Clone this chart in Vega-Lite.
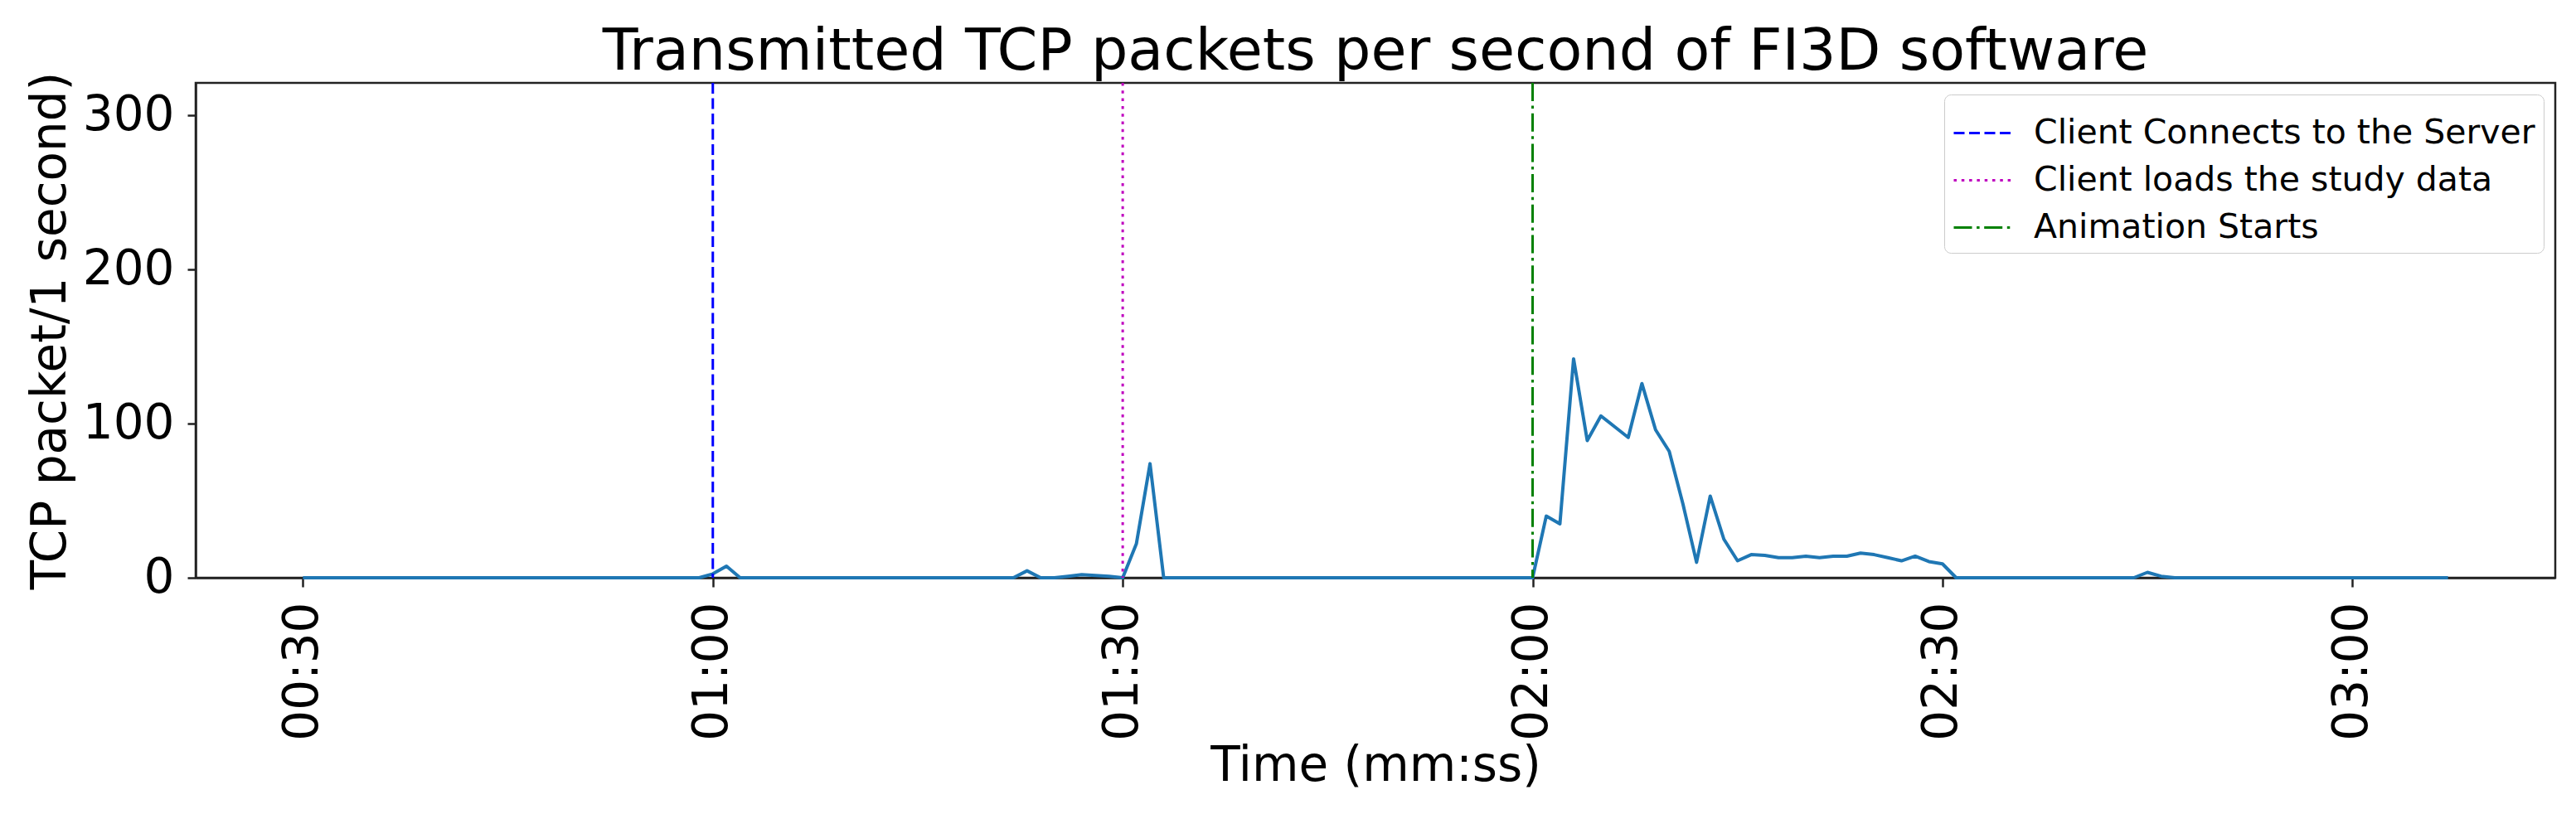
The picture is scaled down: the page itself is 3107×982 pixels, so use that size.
{
  "$schema": "https://vega.github.io/schema/vega-lite/v6.json",
  "autosize": "none",
  "width": 2846,
  "height": 597,
  "padding": {"left": 236, "top": 100, "right": 25, "bottom": 285},
  "background": "white",
  "config": {
    "font": "DejaVu Sans",
    "view": {"stroke": "#222222", "strokeWidth": 2.5},
    "axis": {"grid": false, "labelFont": "DejaVu Sans", "titleFont": "DejaVu Sans", "labelColor": "black", "titleColor": "black", "tickColor": "#222222", "domainColor": "#222222", "domainWidth": 2.5, "tickWidth": 2.5, "titleFontWeight": "normal", "zindex": 1}
  },
  "title": {
    "text": "Transmitted TCP packets per second of FI3D software",
    "fontSize": 70,
    "font": "DejaVu Sans",
    "fontWeight": "normal",
    "color": "black",
    "anchor": "middle",
    "frame": "group",
    "baseline": "alphabetic",
    "offset": 18,
    "dy": 86
  },
  "datasets": {
    "traffic": [
      {"t":30,"v":0},{"t":31,"v":0},{"t":32,"v":0},{"t":33,"v":0},{"t":34,"v":0},{"t":35,"v":0},{"t":36,"v":0},{"t":37,"v":0},{"t":38,"v":0},{"t":39,"v":0},
      {"t":40,"v":0},{"t":41,"v":0},{"t":42,"v":0},{"t":43,"v":0},{"t":44,"v":0},{"t":45,"v":0},{"t":46,"v":0},{"t":47,"v":0},{"t":48,"v":0},{"t":49,"v":0},
      {"t":50,"v":0},{"t":51,"v":0},{"t":52,"v":0},{"t":53,"v":0},{"t":54,"v":0},{"t":55,"v":0},{"t":56,"v":0},{"t":57,"v":0},{"t":58,"v":0},{"t":59,"v":0},
      {"t":60,"v":2.5},{"t":61,"v":7.5},{"t":62,"v":0},{"t":63,"v":0},{"t":64,"v":0},{"t":65,"v":0},{"t":66,"v":0},{"t":67,"v":0},{"t":68,"v":0},{"t":69,"v":0},
      {"t":70,"v":0},{"t":71,"v":0},{"t":72,"v":0},{"t":73,"v":0},{"t":74,"v":0},{"t":75,"v":0},{"t":76,"v":0},{"t":77,"v":0},{"t":78,"v":0},{"t":79,"v":0},
      {"t":80,"v":0},{"t":81,"v":0},{"t":82,"v":0},{"t":83,"v":4.5},{"t":84,"v":0},{"t":85,"v":0},{"t":86,"v":1},{"t":87,"v":2},{"t":88,"v":1.5},{"t":89,"v":1},
      {"t":90,"v":0},{"t":91,"v":22},{"t":92,"v":74},{"t":93,"v":0},{"t":94,"v":0},{"t":95,"v":0},{"t":96,"v":0},{"t":97,"v":0},{"t":98,"v":0},{"t":99,"v":0},
      {"t":100,"v":0},{"t":101,"v":0},{"t":102,"v":0},{"t":103,"v":0},{"t":104,"v":0},{"t":105,"v":0},{"t":106,"v":0},{"t":107,"v":0},{"t":108,"v":0},{"t":109,"v":0},
      {"t":110,"v":0},{"t":111,"v":0},{"t":112,"v":0},{"t":113,"v":0},{"t":114,"v":0},{"t":115,"v":0},{"t":116,"v":0},{"t":117,"v":0},{"t":118,"v":0},{"t":119,"v":0},
      {"t":120,"v":0},{"t":121,"v":40},{"t":122,"v":35},{"t":123,"v":142},{"t":124,"v":89},{"t":125,"v":105},{"t":126,"v":98},{"t":127,"v":91},{"t":128,"v":126},{"t":129,"v":96},
      {"t":130,"v":82},{"t":131,"v":48},{"t":132,"v":10},{"t":133,"v":53},{"t":134,"v":25},{"t":135,"v":11},{"t":136,"v":15},{"t":137,"v":14.5},{"t":138,"v":13},{"t":139,"v":13},
      {"t":140,"v":14},{"t":141,"v":13},{"t":142,"v":14},{"t":143,"v":14},{"t":144,"v":16},{"t":145,"v":15},{"t":146,"v":13},{"t":147,"v":11},{"t":148,"v":14},{"t":149,"v":10.5},
      {"t":150,"v":9},{"t":151,"v":0},{"t":152,"v":0},{"t":153,"v":0},{"t":154,"v":0},{"t":155,"v":0},{"t":156,"v":0},{"t":157,"v":0},{"t":158,"v":0},{"t":159,"v":0},
      {"t":160,"v":0},{"t":161,"v":0},{"t":162,"v":0},{"t":163,"v":0},{"t":164,"v":0},{"t":165,"v":3.5},{"t":166,"v":1},{"t":167,"v":0},{"t":168,"v":0},{"t":169,"v":0},
      {"t":170,"v":0},{"t":171,"v":0},{"t":172,"v":0},{"t":173,"v":0},{"t":174,"v":0},{"t":175,"v":0},{"t":176,"v":0},{"t":177,"v":0},{"t":178,"v":0},{"t":179,"v":0},
      {"t":180,"v":0},{"t":181,"v":0},{"t":182,"v":0},{"t":183,"v":0},{"t":184,"v":0},{"t":185,"v":0},{"t":186,"v":0},{"t":187,"v":0}
    ],
    "events": [
      {"t":60,"label":"Client Connects to the Server"},
      {"t":90,"label":"Client loads the study data"},
      {"t":120,"label":"Animation Starts"}
    ]
  },
  "layer": [
    {
      "data": {"name": "traffic"},
      "mark": {"type": "line", "color": "#1f77b4", "strokeWidth": 4, "strokeJoin": "round"},
      "encoding": {
        "x": {
          "field": "t", "type": "quantitative",
          "scale": {"domain": [22.15, 194.85], "nice": false, "zero": false},
          "axis": {
            "values": [30, 60, 90, 120, 150, 180],
            "labelExpr": "utcFormat(datum.value * 1000, '%M:%S')",
            "labelAngle": -90,
            "labelAlign": "right",
            "labelBaseline": "middle",
            "labelFontSize": 58,
            "labelPadding": 18,
            "tickSize": 11,
            "title": "Time (mm:ss)",
            "titleFontSize": 58,
            "titleBaseline": "alphabetic",
            "titleY": 244
          }
        },
        "y": {
          "field": "v", "type": "quantitative",
          "scale": {"domain": [0, 321], "nice": false},
          "axis": {
            "values": [0, 100, 200, 300],
            "labelFontSize": 58,
            "labelPadding": 16,
            "tickSize": 10,
            "title": "TCP packet/1 second)",
            "titleFontSize": 58,
            "titleBaseline": "alphabetic",
            "titleAlign": "center",
            "titleAngle": -90,
            "titleX": -158,
            "titleY": 298.5
          }
        }
      }
    },
    {
      "data": {"name": "events"},
      "mark": {"type": "rule", "strokeWidth": 3, "strokeCap": "butt"},
      "encoding": {
        "x": {"field": "t", "type": "quantitative"},
        "color": {
          "field": "label", "type": "nominal", "sort": null,
          "scale": {"domain": ["Client Connects to the Server", "Client loads the study data", "Animation Starts"], "range": ["#0000ff", "#bf00bf", "#008000"]},
          "legend": {
            "title": null,
            "orient": "top-right",
            "offset": 14,
            "padding": 10,
            "rowPadding": 0,
            "labelFontSize": 41,
            "labelFont": "DejaVu Sans",
            "labelColor": "black",
            "labelLimit": 1000,
            "labelOffset": 25,
            "symbolType": "stroke",
            "symbolSize": 4900,
            "symbolStrokeWidth": 3,
            "strokeColor": "#cccccc",
            "fillColor": "white",
            "cornerRadius": 8
          }
        },
        "strokeDash": {
          "field": "label", "type": "nominal", "sort": null,
          "scale": {"domain": ["Client Connects to the Server", "Client loads the study data", "Animation Starts"], "range": [[13, 5.5], [3.5, 5.8], [22, 5.6, 3.5, 5.6]]}
        }
      }
    }
  ]
}
